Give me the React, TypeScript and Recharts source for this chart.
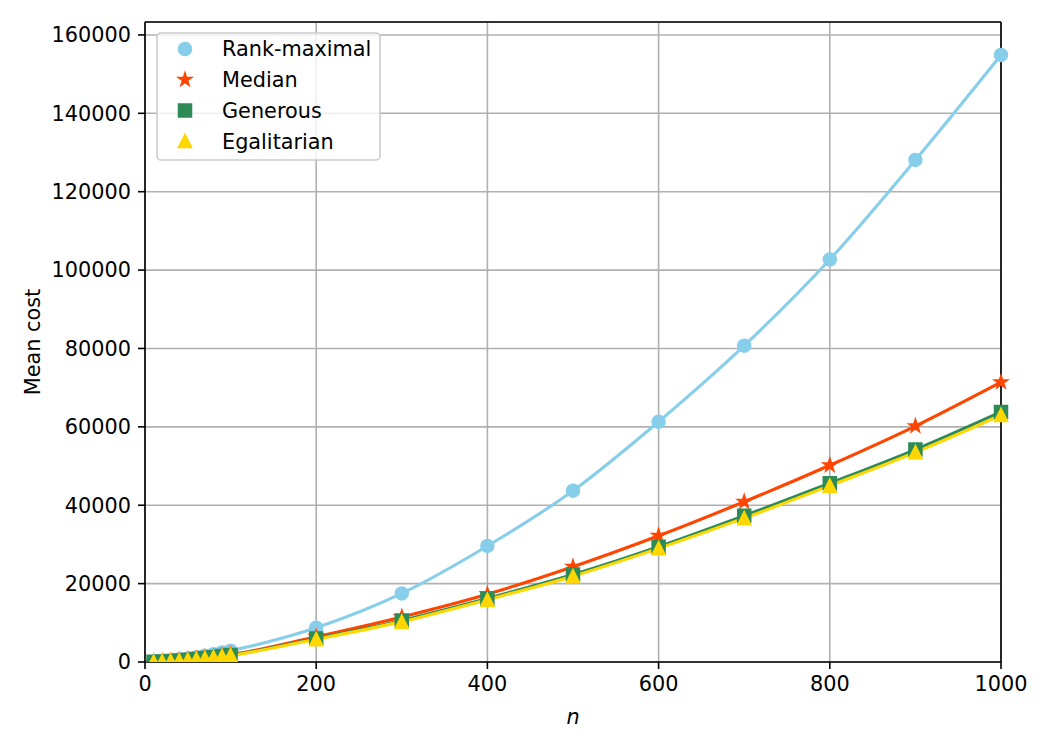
import React from "react";
import {
  LineChart,
  Line,
  XAxis,
  YAxis,
  CartesianGrid,
  Legend,
  Label,
  ReferenceLine,
} from "recharts";

// problem sizes
const sizes = [
  10, 20, 30, 40, 50, 60, 70, 80, 90, 100, 200, 300, 400, 500, 600, 700, 800,
  900, 1000,
];

// mean cost per algorithm
const rankMaximal = [
  60, 190, 370, 610, 890, 1220, 1580, 1990, 2440, 2900, 8750, 17500, 29600,
  43700, 61300, 80700, 102700, 128100, 154900,
];
const median = [
  48, 145, 277, 438, 626, 840, 1078, 1336, 1616, 1900, 6450, 11500, 17300,
  24300, 32200, 40900, 50200, 60200, 71400,
];
const generous = [
  45, 135, 258, 407, 582, 781, 1002, 1242, 1503, 1770, 6000, 10600, 16200,
  22300, 29400, 37300, 45600, 54200, 63800,
];
const egalitarian = [
  43, 130, 250, 394, 563, 756, 970, 1202, 1454, 1710, 5800, 10300, 15900,
  21900, 29000, 36700, 45000, 53500, 63000,
];

const xTicks = [0, 200, 400, 600, 800, 1000];
const yTicks = [0, 20000, 40000, 60000, 80000, 100000, 120000, 140000, 160000];
const Y_MAX = 163300;

const FONT = "'DejaVu Sans', sans-serif";
const FS = 20.8;

const series = [
  { key: "rank", name: "Rank-maximal", color: "#87CEEB", marker: "circle" },
  { key: "median", name: "Median", color: "#FF4500", marker: "star" },
  { key: "generous", name: "Generous", color: "#2E8B57", marker: "square" },
  { key: "egal", name: "Egalitarian", color: "#FFD700", marker: "triangle" },
];

const data = sizes.map((n, i) => ({
  n,
  rank: rankMaximal[i],
  median: median[i],
  generous: generous[i],
  egal: egalitarian[i],
}));

function markerPath(type: string, cx: number, cy: number): string {
  const s = 6.25;
  if (type === "square") {
    return `M${cx - s},${cy - s}h${2 * s}v${2 * s}h${-2 * s}Z`;
  }
  if (type === "triangle") {
    return `M${cx},${cy - s}L${cx - s},${cy + s}L${cx + s},${cy + s}Z`;
  }
  if (type === "star") {
    const inner = s * 0.381966;
    let d = "";
    for (let k = 0; k < 10; k++) {
      const r = k % 2 === 0 ? s : inner;
      const a = -Math.PI / 2 + (k * Math.PI) / 5;
      d += `${k === 0 ? "M" : "L"}${cx + r * Math.cos(a)},${cy + r * Math.sin(a)}`;
    }
    return d + "Z";
  }
  // circle
  return `M${cx - s},${cy}a${s},${s} 0 1,0 ${2 * s},0a${s},${s} 0 1,0 ${-2 * s},0Z`;
}

function Marker({ type, color, cx, cy }: { type: string; color: string; cx: number; cy: number }) {
  return (
    <path
      d={markerPath(type, cx, cy)}
      fill={color}
      stroke={color}
      strokeWidth={2}
      strokeLinejoin="miter"
    />
  );
}

const makeDot = (type: string, color: string) => (p: any) => {
  if (p.cx == null || p.cy == null) return <g key={p.index} />;
  return (
    <g key={`${type}-${p.index}`}>
      <Marker type={type} color={color} cx={p.cx} cy={p.cy} />
    </g>
  );
};

function LegendBox() {
  return (
    <svg width={226} height={130} style={{ display: "block" }}>
      <rect
        x={1}
        y={1}
        width={223}
        height={127}
        rx={4}
        fill="rgba(255,255,255,0.8)"
        stroke="#cccccc"
        strokeWidth={1.6}
      />
      {series.map((s, i) => {
        const cy = 17 + i * 30.7;
        return (
          <g key={s.key}>
            <Marker type={s.marker} color={s.color} cx={29} cy={cy} />
            <text
              x={66}
              y={cy}
              dy="0.36em"
              fontFamily={FONT}
              fontSize={FS}
              fill="#000"
            >
              {s.name}
            </text>
          </g>
        );
      })}
    </svg>
  );
}

export default function App() {
  const tickStyle = { fill: "#000", fontSize: FS, fontFamily: FONT };
  return (
    <div style={{ position: "absolute", left: 0, top: 0, background: "#fff" }}>
      <LineChart
        width={1050}
        height={750}
        data={data}
        margin={{ top: 22, right: 49, left: 0, bottom: 0 }}
      >
        <CartesianGrid stroke="#b0b0b0" strokeWidth={1.6} />
        <XAxis
          type="number"
          dataKey="n"
          domain={[0, 1000]}
          ticks={xTicks}
          height={88}
          tick={tickStyle}
          tickSize={7}
          tickMargin={7}
          stroke="#000"
          strokeWidth={1.6}
          tickLine={{ stroke: "#000", strokeWidth: 1.6 }}
          axisLine={{ stroke: "#000", strokeWidth: 1.6 }}
          allowDecimals={false}
        >
          <Label
            value="n"
            position="insideBottom"
            offset={26}
            style={{ fontFamily: FONT, fontSize: FS, fontStyle: "italic", fill: "#000" }}
          />
        </XAxis>
        <YAxis
          type="number"
          domain={[0, Y_MAX]}
          ticks={yTicks}
          width={145}
          tick={tickStyle}
          tickSize={7}
          tickMargin={7}
          tickLine={{ stroke: "#000", strokeWidth: 1.6 }}
          axisLine={{ stroke: "#000", strokeWidth: 1.6 }}
          allowDataOverflow
        >
          <Label
            value="Mean cost"
            angle={-90}
            position="insideLeft"
            offset={33}
            style={{ fontFamily: FONT, fontSize: FS, fill: "#000", textAnchor: "middle" }}
          />
        </YAxis>
        <ReferenceLine y={Y_MAX} stroke="#000" strokeWidth={1.6} />
        <ReferenceLine x={1000} stroke="#000" strokeWidth={1.6} />
        {series.map((s) => (
          <Line
            key={s.key}
            dataKey={s.key}
            name={s.name}
            type="monotone"
            stroke={s.color}
            strokeWidth={3.1}
            dot={makeDot(s.marker, s.color)}
            activeDot={false}
            isAnimationActive={false}
          />
        ))}
        <Legend
          layout="vertical"
          align="center"
          verticalAlign="middle"
          content={() => <LegendBox />}
          wrapperStyle={{ left: 156, top: 32, width: 226, height: 130 }}
        />
      </LineChart>
    </div>
  );
}
